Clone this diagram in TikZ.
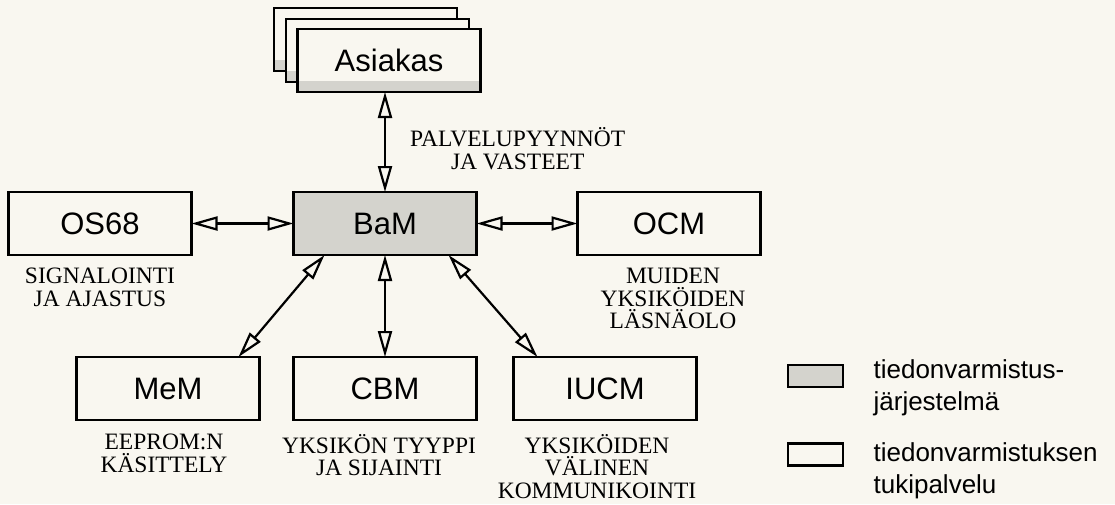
\documentclass[tikz,border=0pt]{standalone}
\usepackage{fontspec}
\setmainfont{Liberation Serif}
\setsansfont{Liberation Sans}
\usetikzlibrary{positioning,arrows.meta,calc}
\definecolor{paper}{RGB}{249,247,240}
\definecolor{dots}{RGB}{212,211,205}

\begin{document}
\begin{tikzpicture}[x=1pt, y=1pt,
    box/.style={draw, line width=2.8pt, fill=paper, minimum width=183pt, minimum height=63pt,
      inner sep=2pt, outer sep=0pt, font=\sffamily\fontsize{31}{36}\selectfont},
    sysbox/.style={box, fill=dots},
    stackbox/.style={box, path picture={\fill[dots] (path picture bounding box.south west)
      rectangle ([yshift=11pt]path picture bounding box.south east);}},
    note/.style={align=center, inner sep=0pt, font=\fontsize{23.5}{22.5}\selectfont},
    link/.style={line width=2.2pt, {Triangle[open,length=26pt,width=14pt]}-{Triangle[open,length=26pt,width=14pt]}},
    keybox/.style={draw, line width=2.8pt, fill=paper, minimum width=55pt, minimum height=22pt, inner sep=0pt},
    keytext/.style={align=left, inner sep=0pt, font=\sffamily\fontsize{26}{32}\selectfont}]
  \path[use as bounding box, fill=paper] (0,0) rectangle (1115,-504);

  \node[sysbox] (bam) at (385,-223.5) {BaM};
  \node[stackbox, above=121pt of bam, xshift=-19.5pt] (asiakas3) {};
  \node[stackbox, above=110pt of bam, xshift=-7.5pt] (asiakas2) {};
  \node[stackbox, above=100pt of bam, xshift=4pt] (asiakas) {Asiakas};

  \node[box, left=102pt of bam] (os) {OS68};
  \node[box, right=101pt of bam] (ocm) {OCM};
  \node[box, below=102pt of bam] (cbm) {CBM};
  \node[box, left=34pt of cbm] (mem) {MeM};
  \node[box, right=37pt of cbm] (iucm) {IUCM};

  \node[note, above right=22pt and 25pt of bam.north, anchor=south west] (pyynto) {PALVELUPYYNNÖT\\JA VASTEET};
  \node[note, below=13pt of os] (osnote) {SIGNALOINTI\\JA AJASTUS};
  \node[note, below=13pt of ocm, xshift=4pt] (ocmnote) {MUIDEN\\YKSIKÖIDEN\\LÄSNÄOLO};
  \node[note, below=14pt of mem, xshift=-4pt] (memnote) {EEPROM:N\\KÄSITTELY};
  \node[note, below=14pt of cbm, xshift=-6pt] (cbmnote) {YKSIKÖN TYYPPI\\JA SIJAINTI};
  \node[note, below=14pt of iucm, xshift=-8pt] (iucmnote) {YKSIKÖIDEN\\VÄLINEN\\KOMMUNIKOINTI};

  \draw[link] (bam.north) -- (bam.north |- asiakas.south);
  \draw[link] (os) -- (bam);
  \draw[link] (bam) -- (ocm);
  \draw[link] (bam) -- (cbm);
  \draw[link] ([xshift=31pt]bam.south west) -- ([xshift=-21pt]mem.north east);
  \draw[link] ([xshift=-28pt]bam.south east) -- ([xshift=24pt]iucm.north west);

  \node[keybox, fill=dots] (keyshade) at (815.5,-376) {};
  \node[keybox, below=54pt of keyshade] (keyplain) {};
  \node[keytext, right=29pt of keyshade.north east, anchor=north west, yshift=4pt] (keyshadetext) {tiedonvarmistus-\\järjestelmä};
  \node[keytext, right=29pt of keyplain.north east, anchor=north west] (keyplaintext) {tiedonvarmistuksen\\tukipalvelu};
\end{tikzpicture}
\end{document}
